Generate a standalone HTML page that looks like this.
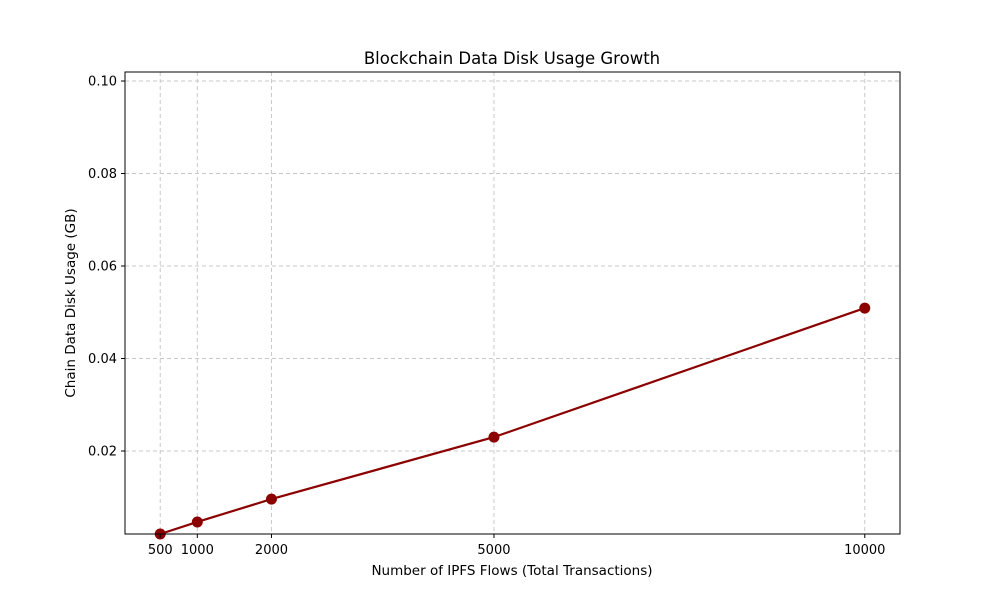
<!DOCTYPE html>
<html><head><meta charset="utf-8"><style>
body{margin:0;background:#fff;}
svg text{font-family:"DejaVu Sans","Liberation Sans",sans-serif;fill:#000;}
</style></head><body>
<svg id="chart" width="1000" height="600" xmlns="http://www.w3.org/2000/svg">
<rect width="1000" height="600" fill="#fff"/>
<g id="grid"></g>
<g id="series"></g>
<rect x="125" y="72" width="775" height="462" fill="none" stroke="#000" stroke-width="1"/>
<g id="ticks"></g>
<text x="512" y="64" text-anchor="middle" font-size="16.5">Blockchain Data Disk Usage Growth</text>
<text x="512" y="575" text-anchor="middle" font-size="13.5">Number of IPFS Flows (Total Transactions)</text>
<text transform="translate(75,303) rotate(-90)" text-anchor="middle" font-size="13.5">Chain Data Disk Usage (GB)</text>
</svg>
<script>
const flows = [500, 1000, 2000, 5000, 10000];
const usage = [0.00205, 0.00465, 0.0096, 0.023, 0.0509];
const xTicks = [500, 1000, 2000, 5000, 10000];
const yTicks = [0.02, 0.04, 0.06, 0.08, 0.10];
const yTickLabels = ["0.02", "0.04", "0.06", "0.08", "0.10"];

const NS = "http://www.w3.org/2000/svg";
const L=125,R=900,T=72,B=534;
const xMin=25,xMax=10475,yMin=0.00205,yMax=0.10195;
const xs=v=>L+(v-xMin)/(xMax-xMin)*(R-L);
const ys=v=>B-(v-yMin)/(yMax-yMin)*(B-T);
function mk(tag,attrs,parent){const e=document.createElementNS(NS,tag);for(const k in attrs)e.setAttribute(k,attrs[k]);document.getElementById(parent).appendChild(e);return e;}

xTicks.forEach(v=>{
  const x=xs(v);
  const g=mk("line",{x1:x,x2:x,y1:T,y2:B,stroke:"#c8c8c8","stroke-dasharray":"4,3"},"grid");
  
  
  const t=mk("line",{x1:x,x2:x,y1:B,y2:B+4,stroke:"#000"},"ticks");
  
  
  const l=mk("text",{x:x,y:B+20,"text-anchor":"middle","font-size":"13"},"ticks");
  l.textContent=v;
  
  
});
yTicks.forEach((v,i)=>{
  const y=ys(v);
  const g=mk("line",{x1:L,x2:R,y1:y,y2:y,stroke:"#c8c8c8","stroke-dasharray":"4,3"},"grid");
  
  
  const t=mk("line",{x1:L-4,x2:L,y1:y,y2:y,stroke:"#000"},"ticks");
  
  
  const l=mk("text",{x:L-8,y:y+4.5,"text-anchor":"end","font-size":"13"},"ticks");
  l.textContent=yTickLabels[i];
  
  
});
const pts=flows.map((f,i)=>xs(f)+","+ys(usage[i])).join(" ");
const line=mk("polyline",{points:pts,fill:"none",stroke:"#8b0000","stroke-width":"2.2"},"series");


flows.forEach((f,i)=>{
  const c=mk("circle",{cx:xs(f),cy:ys(usage[i]),r:"5.5",fill:"#8b0000"},"series");
  
  
});
</script>
</body></html>
